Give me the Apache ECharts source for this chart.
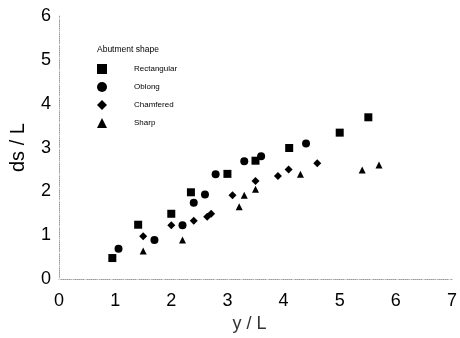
<!DOCTYPE html>
<html>
<head>
<meta charset="utf-8">
<script src="https://cdn.jsdelivr.net/npm/echarts@6/dist/echarts.min.js"></script>
<style>
html,body{margin:0;padding:0;background:#fff;}
#chart{width:460px;height:338px;}
</style>
</head>
<body>
<div id="chart"></div>
<script>
// Data (x = y/L, y = ds/L)
var rectangular = [[0.95,0.48],[1.41,1.24],[2.0,1.49],[2.35,1.98],[3.0,2.40],[3.5,2.70],[4.1,2.99],[5.0,3.34],[5.51,3.69]];
var oblong = [[1.06,0.69],[1.70,0.89],[2.2,1.23],[2.4,1.74],[2.6,1.93],[2.79,2.39],[3.30,2.69],[3.60,2.80],[4.40,3.09]];
var chamfered = [[1.50,0.98],[2.0,1.23],[2.40,1.33],[2.64,1.42],[2.71,1.49],[3.09,1.91],[3.50,2.24],[3.90,2.35],[4.09,2.50],[4.60,2.64]];
var sharp = [[1.50,0.64],[2.2,0.89],[3.21,1.65],[3.30,1.91],[3.50,2.05],[4.30,2.39],[5.40,2.49],[5.70,2.60]];
var seriesNames = ['Rectangular','Oblong','Chamfered','Sharp'];
var xTicks = [0,1,2,3,4,5,6,7];
var yTicks = [0,1,2,3,4,5,6];

var font = 'Liberation Sans, Arial, sans-serif';
var chart = echarts.init(document.getElementById('chart'), null, {renderer:'canvas'});
var symbols = ['rect','circle','diamond','triangle'];
var sizes = [8,8,8,7];
var datas = [rectangular, oblong, chamfered, sharp];

chart.setOption({
  animation:false,
  backgroundColor:'#fff',
  title:{text:'Abutment shape', left:92, top:40, textStyle:{fontFamily:font,fontSize:8.5,fontWeight:'normal',color:'#000'}},
  legend:{
    orient:'vertical', left:92, top:59, itemWidth:10, itemHeight:10, itemGap:8,
    data: seriesNames.map(function(n,i){return {name:n, icon:symbols[i], itemStyle:{color:'#000',opacity:1}};}),
    textStyle:{fontFamily:font,fontSize:8,color:'#000',padding:[0,0,0,22]}
  },
  grid:{left:52, right:5, top:16, bottom:58, containLabel:false},
  xAxis:[{
    type:'value', min:xTicks[0], max:xTicks[xTicks.length-1], interval:1,
    name:'y / L', nameLocation:'middle', nameGap:29,
    nameTextStyle:{fontFamily:font,fontSize:18,color:'#333',padding:[0,12,0,0]},
    axisLine:{show:true,onZero:false,lineStyle:{color:'#999',type:'dotted',width:1}},
    axisTick:{show:false},
    axisLabel:{fontFamily:font,fontSize:18,color:'#000',margin:13},
    splitLine:{show:false}
  },{
    type:'value', position:'top', min:0, max:7,
    axisLine:{show:true,lineStyle:{color:'#ddd',type:[1,12],width:1}},
    axisTick:{show:false}, axisLabel:{show:false}, splitLine:{show:false}
  }],
  yAxis:[{
    type:'value', min:yTicks[0], max:yTicks[yTicks.length-1], interval:1,
    name:'ds / L', nameLocation:'middle', nameGap:31, nameRotate:90,
    nameTextStyle:{fontFamily:font,fontSize:20,color:'#000'},
    axisLine:{show:true,onZero:false,lineStyle:{color:'#999',type:'dotted',width:1}},
    axisTick:{show:false},
    axisLabel:{fontFamily:font,fontSize:18,color:'#000',margin:8},
    splitLine:{show:false}
  },{
    type:'value', position:'right', min:0, max:6,
    axisLine:{show:true,lineStyle:{color:'#ddd',type:[1,12],width:1}},
    axisTick:{show:false}, axisLabel:{show:false}, splitLine:{show:false}
  }],
  series: seriesNames.map(function(n,i){
    return {
      name:n, type:'scatter', symbol:symbols[i], symbolSize:sizes[i],
      data:datas[i], itemStyle:{color:'#000',opacity:1}
    };
  })
});
</script>
</body>
</html>
